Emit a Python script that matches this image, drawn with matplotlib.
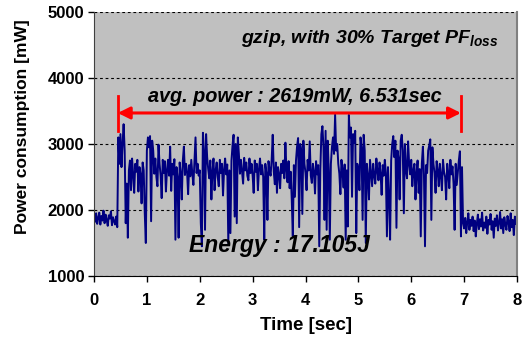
import matplotlib.pyplot as plt
import numpy as np

plt.rcParams['font.family'] = ['Liberation Sans', 'DejaVu Sans']
plt.rcParams['font.weight'] = 'bold'
plt.rcParams['mathtext.fontset'] = 'custom'
plt.rcParams['mathtext.rm'] = 'Liberation Sans:bold:italic'
plt.rcParams['mathtext.it'] = 'Liberation Sans:bold:italic'

# sampled power trace, one value every 0.02 s (mW)
step = 0.02
power = [
    1900, 1820, 1950, 1790, 1880, 1960, 1780, 1910, 1840, 1990,
    1800, 1930, 1850, 1760, 1920, 1870, 1980, 1770, 1890, 1830,
    1780, 1900, 1740, 3100, 2700, 3150, 2650, 3000, 3300, 2900,
    1800, 2400, 1580, 2600, 2750, 2300, 2780, 2550, 2260, 2700,
    2580, 2760, 2280, 2650, 2540, 2100, 2720, 2600, 1950, 1500,
    2900, 3100, 2950, 3120, 1830, 3050, 2900, 2550, 2780, 2500,
    2360, 2990, 2700, 2520, 2180, 2760, 2560, 2740, 2280, 2600,
    2760, 2520, 2960, 2290, 2700, 2540, 2770, 1550, 2650, 2500,
    1580, 2720, 2560, 2160, 2750, 2960, 2530, 2700, 2580, 2240,
    2680, 2510, 2760, 2540, 2380, 2730, 3100, 2560, 2700, 2520,
    2600, 1800, 1450, 3170, 2900, 1700, 3150, 2800, 2620, 2480,
    2750, 2160, 2580, 2780, 2300, 2600, 2720, 2500, 2360, 2760,
    2560, 2700, 2220, 2610, 2780, 2540, 2690, 1500, 2600, 1650,
    2750, 2980, 3140, 1900, 3000, 1800, 3100, 2850, 2550, 2760,
    2580, 2400, 2790, 2600, 2720, 2520, 2450, 2780, 2560, 2700,
    2520, 2260, 2750, 2580, 2700, 2300, 2620, 2780, 2540, 2680,
    2500, 1550, 2700, 2560, 1850, 2740, 2600, 2520, 2760, 3140,
    2580, 2390, 2720, 2260, 2650, 2540, 2330, 2700, 2560, 2750,
    2480, 3020, 2600, 2420, 2740, 2330, 2580, 2160, 1600, 2680,
    2200, 2750, 2960, 3090, 1740, 3000, 2900, 1940, 3050, 2700,
    2560, 2300, 2760, 2600, 3040, 2520, 2410, 2700, 2580, 2250,
    2740, 2540, 2680, 1450, 2600, 3150, 3270, 2950, 1850, 3200,
    1700, 3050, 2600, 1550, 2700, 2950, 3100, 2850, 3445, 2900,
    3000, 2700, 2550, 2240, 2760, 2580, 2340, 2690, 1550, 2600,
    1750, 3440, 3100, 3250, 2200, 3150, 3020, 3200, 1650, 2700,
    2600, 2300, 3100, 2950, 1850, 3140, 2900, 1500, 2700, 2520,
    2160, 2760, 2560, 2360, 2700, 2520, 2400, 2780, 2600, 2450,
    2720, 2550, 2230, 2680, 2520, 2760, 2560, 1600, 2650, 2200,
    1550, 2750, 3000, 3120, 2800, 3050, 1730, 2900, 2780, 2160,
    3050, 3140, 2900, 1950, 3000, 2600, 2480, 3040, 2700, 2540,
    2760, 2360, 2600, 2700, 2160, 2560, 2750, 2260, 2620, 1600,
    2700, 2960, 2540, 1450, 2680, 2560, 2900, 2980, 3070, 1850,
    2950, 2700, 2560, 2260, 2740, 2600, 2360, 2700, 2520, 2300,
    2760, 2580, 2500, 2160, 2700, 2560, 2330, 2760, 2540, 2660,
    2400, 1700, 2700, 2380, 2560, 2750, 2890, 1600, 2650, 1800,
    1720, 1880, 1650, 1820, 1950, 1700, 1850, 1760, 1900, 1680,
    1840, 1600, 1790, 1930, 1710, 1860, 1750, 1960, 1690, 1810,
    1730, 1900, 1640, 1850, 1780, 1940, 1700, 1830, 1580, 1870,
    1760, 1920, 1690, 1800, 1970, 1720, 1860, 1650, 1890, 1780,
    1700, 1910, 1820, 1680, 1950, 1740, 1850, 1620, 1900, 1790,
    1800,
]
time = np.arange(len(power)) * step

run_start, run_end = 0.45, 6.94   # measured interval (s)
arrow_y = 3470
label_avg = "avg. power : 2619mW, 6.531sec"
label_title = r"gzip, with 30% Target PF$_{\rm loss}$"
label_energy = "Energy : 17.105J"

fig = plt.figure(figsize=(5.22, 3.39), dpi=100)
ax = fig.add_axes([94 / 522, 1 - 276 / 339, 423 / 522, 264 / 339])
ax.set_facecolor('#c0c0c0')

ax.plot(time, power, color='#000080', lw=1.4)

ax.set_xlim(0, 8)
ax.set_ylim(1000, 5000)
ax.set_xticks(range(0, 9))
ax.set_yticks(range(1000, 5001, 1000))
ax.tick_params(direction='out', length=4, width=1, labelsize=12, pad=3)
ax.tick_params(axis='x', pad=8)
ax.yaxis.grid(True, color='black', linestyle=(0, (2.5, 2.5)), lw=0.8)
ax.spines['top'].set_visible(False)
ax.spines['right'].set_color('#808080')
ax.spines['right'].set_linewidth(1.5)
ax.spines['left'].set_color('#404040')

ax.set_xlabel('Time [sec]', fontsize=13.5, fontweight='bold', labelpad=7)
ax.set_ylabel('Power consumption [mW]', fontsize=12.5, fontweight='bold')
ax.yaxis.set_label_coords(-0.152, 0.564)

# measurement interval arrow
ax.annotate('', xy=(run_start, arrow_y), xytext=(run_end, arrow_y),
            arrowprops=dict(arrowstyle='<|-|>', color='red', lw=2.2,
                            mutation_scale=18, shrinkA=0, shrinkB=0))
for xe in (run_start, run_end):
    ax.plot([xe, xe], [3200, 3730], color='red', lw=2)

ax.text(3.8, 3640, label_avg, ha='center', va='baseline',
        fontsize=14.3, fontweight='bold', style='italic')
ax.text(7.66, 4530, label_title, ha='right', va='baseline',
        fontsize=14, fontweight='bold', style='italic')
ax.text(3.5, 1360, label_energy, ha='center', va='baseline',
        fontsize=16.5, fontweight='bold', style='italic')

fig.savefig('out.png', dpi=100)
